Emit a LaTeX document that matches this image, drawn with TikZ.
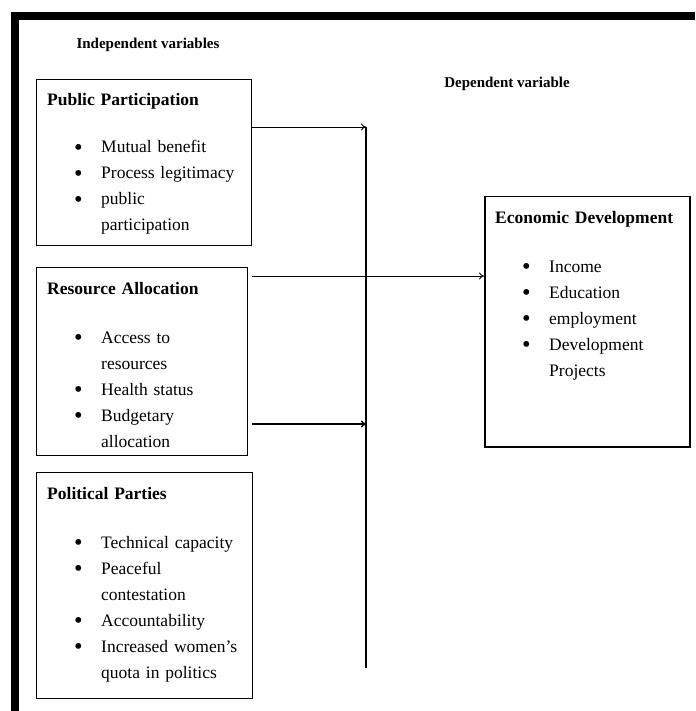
\documentclass[tikz,border=0pt]{standalone}
\usepackage{fontspec}
\usepackage{graphicx}
\setmainfont{Liberation Serif}
\usetikzlibrary{arrows.meta}
\newcommand{\bul}{\hspace*{27pt}\makebox[27pt][l]{\raisebox{-2.2pt}{\scalebox{1.4}{\textbullet}}}}
\newcommand{\cont}{\hspace*{54pt}}
\tikzset{
  varbox/.style={draw, line width=1pt, inner sep=0pt, anchor=north west},
  boxtext/.style={anchor=base west, inner sep=0pt, text width=215pt, align=left,
    font=\fontsize{17.5}{26}\selectfont},
  caption/.style={font=\bfseries\fontsize{15}{18}\selectfont, inner sep=0pt},
  link/.style={line width=0.9pt, -{To[length=5pt,width=7pt]}},
}
\begin{document}
\begin{tikzpicture}[x=1pt,y=-1pt]
\useasboundingbox (0,0) rectangle (695,711);
% frame
\draw[line width=8pt, line join=miter] (14.5,711) -- (14.5,16) -- (695,16);
% captions
\node[caption] (iv) at (148,45) {Independent variables};
\node[caption] (dv) at (507,84) {Dependent variable};
% boxes
\node[varbox, minimum width=215pt, minimum height=166pt] (pp) at (36,79) {};
\node[varbox, minimum width=211pt, minimum height=188pt] (ra) at (36,267) {};
\node[varbox, minimum width=216pt, minimum height=226pt] (pol) at (36,472) {};
\node[varbox, line width=1.5pt, minimum width=205pt, minimum height=250pt] (ed) at (484,196) {};
% texts
\node[boxtext] (pptext) at (47,106) {\textbf{Public Participation}\\[21pt]
\bul Mutual benefit\\
\bul Process legitimacy\\
\bul public\\
\cont participation};
\node[boxtext] (ratext) at (47,294) {\textbf{Resource Allocation}\\[23pt]
\bul Access to\\
\cont resources\\
\bul Health status\\
\bul Budgetary\\
\cont allocation};
\node[boxtext] (poltext) at (47,499) {\textbf{Political Parties}\\[23pt]
\bul Technical capacity\\
\bul Peaceful\\
\cont contestation\\
\bul Accountability\\
\bul Increased women’s\\
\cont quota in politics};
\node[boxtext] (edtext) at (495,223) {\textbf{Economic Development}\\[23pt]
\bul Income\\
\bul Education\\
\bul employment\\
\bul Development\\
\cont Projects};
% connectors
\coordinate (jtop) at (366,127);
\coordinate (jmid) at (366,276);
\coordinate (jlow) at (366,424);
\coordinate (jbot) at (366,668);
\draw[line width=1.1pt] (jtop) -- (jbot);
\draw[link] (pp.east |- jtop) -- (jtop);
\draw[link] (ra.east |- jmid) ++(4,0) -- (ed.west |- jmid);
\draw[link, line width=1.6pt] (ra.east |- jlow) ++(4,0) -- (jlow);
\end{tikzpicture}
\end{document}
